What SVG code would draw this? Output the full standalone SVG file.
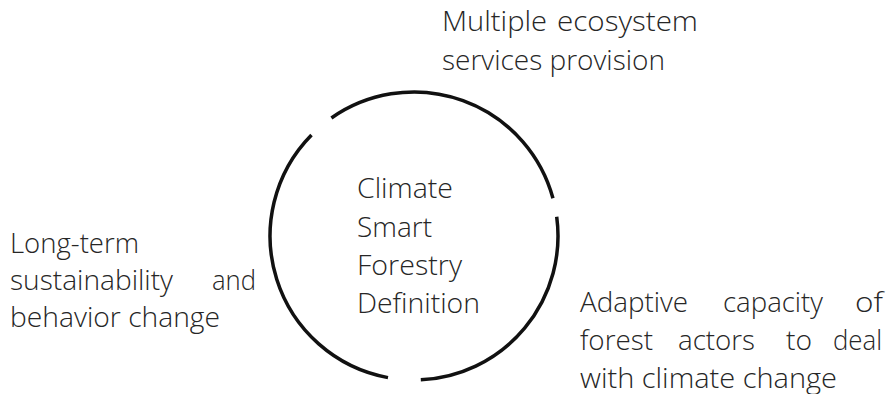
<svg xmlns="http://www.w3.org/2000/svg" width="889" height="394" viewBox="0 0 889 394">
<style>
.t{font-family:"Open Sans","Noto Sans","Liberation Sans",sans-serif;font-size:27px;fill:#262626;font-weight:300}
.arc{fill:none;stroke:#111;stroke-width:3.5;stroke-linecap:butt}
</style>
<rect width="889" height="394" fill="#fff"/>
<g id="ring">
<path class="arc" d="M331.4,118.0 A144,144 0 0 1 552.96,198.24"/>
<path class="arc" d="M556.7,216.7 A144,144 0 0 1 420.8,379.8"/>
<path class="arc" d="M388.0,377.6 A144,144 0 0 1 311.5,134.9"/>
</g>
<g id="center">
<text class="t" x="357" y="198" textLength="96" lengthAdjust="spacingAndGlyphs">Climate</text>
<text class="t" x="357" y="236.5" textLength="75" lengthAdjust="spacingAndGlyphs">Smart</text>
<text class="t" x="357" y="275" textLength="105" lengthAdjust="spacingAndGlyphs">Forestry</text>
<text class="t" x="357" y="313.3" textLength="123" lengthAdjust="spacingAndGlyphs">Definition</text>
</g>
<g id="top">
<text class="t" x="442" y="31" textLength="105" lengthAdjust="spacingAndGlyphs">Multiple</text>
<text class="t" x="557" y="31" textLength="141" lengthAdjust="spacingAndGlyphs">ecosystem</text>
<text class="t" x="442" y="70" textLength="223" lengthAdjust="spacingAndGlyphs">services provision</text>
</g>
<g id="left">
<text class="t" x="10" y="253" textLength="129" lengthAdjust="spacingAndGlyphs">Long-term</text>
<text class="t" x="10" y="290" textLength="163" lengthAdjust="spacingAndGlyphs">sustainability</text>
<text class="t" x="212" y="290" textLength="44" lengthAdjust="spacingAndGlyphs">and</text>
<text class="t" x="10" y="326.5" textLength="210" lengthAdjust="spacingAndGlyphs">behavior change</text>
</g>
<g id="right">
<text class="t" x="580" y="311.5" textLength="108" lengthAdjust="spacingAndGlyphs">Adaptive</text>
<text class="t" x="723" y="311.5" textLength="100" lengthAdjust="spacingAndGlyphs">capacity</text>
<text class="t" x="855" y="311.5" textLength="28" lengthAdjust="spacingAndGlyphs">of</text>
<text class="t" x="580" y="350" textLength="73" lengthAdjust="spacingAndGlyphs">forest</text>
<text class="t" x="678" y="350" textLength="77" lengthAdjust="spacingAndGlyphs">actors</text>
<text class="t" x="786" y="350" textLength="26" lengthAdjust="spacingAndGlyphs">to</text>
<text class="t" x="833" y="350" textLength="49" lengthAdjust="spacingAndGlyphs">deal</text>
<text class="t" x="580" y="387.5" textLength="257" lengthAdjust="spacingAndGlyphs">with climate change</text>
</g>
</svg>
